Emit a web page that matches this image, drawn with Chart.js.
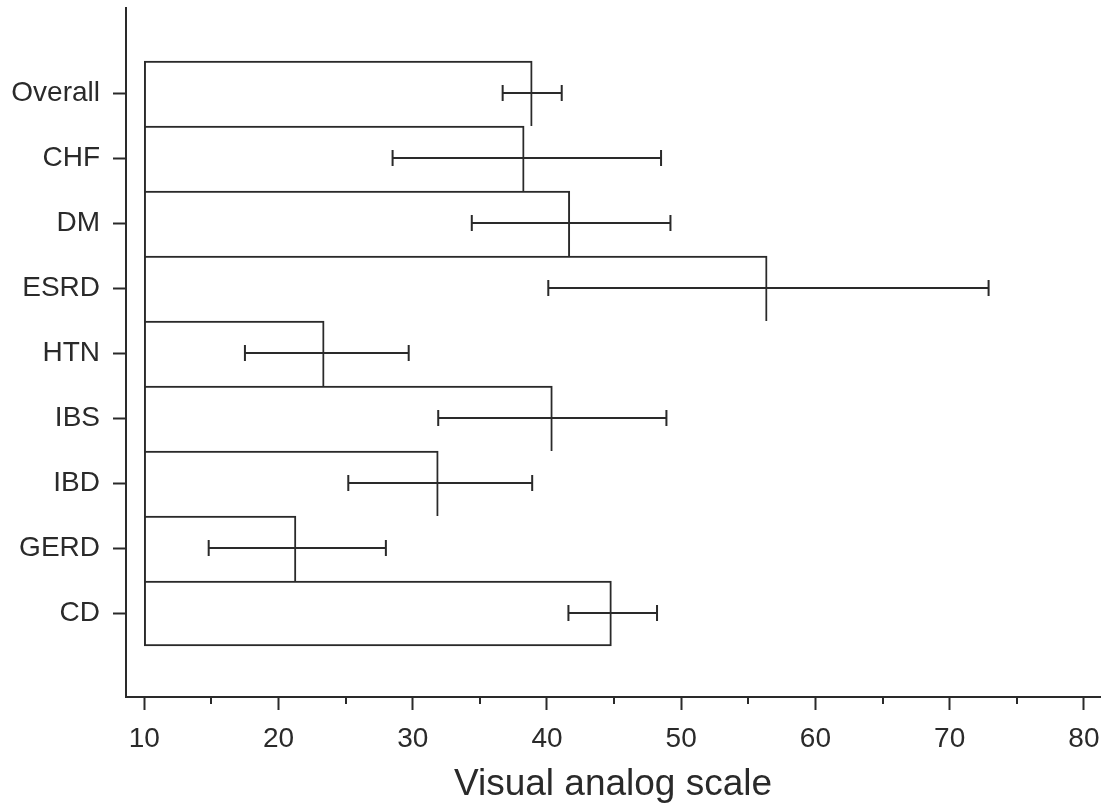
<!DOCTYPE html>
<html>
<head>
<meta charset="utf-8">
<title>Visual analog scale</title>
<script src="https://cdn.jsdelivr.net/npm/chart.js@4.4.1/dist/chart.umd.min.js"></script>
<style>
  html, body { margin: 0; padding: 0; background: #fff; }
  #wrap { width: 1104px; height: 805px; }
</style>
</head>
<body>
<div id="wrap"><canvas id="vas"></canvas></div>
<script>
// categories top to bottom
var categories = ['Overall', 'CHF', 'DM', 'ESRD', 'HTN', 'IBS', 'IBD', 'GERD', 'CD'];
// bar end (mean) and error bar ends
var means = [38.9, 38.3, 41.7, 56.4, 23.4, 40.4, 31.9, 21.3, 44.8];
var lower = [36.7, 28.5, 34.4, 40.1, 17.5, 31.9, 25.2, 14.8, 41.6];
var upper = [41.1, 48.5, 49.2, 72.9, 29.7, 48.9, 38.9, 28.0, 48.2];
var barBase = 10; // bars start at 10
var xTicks = [10, 20, 30, 40, 50, 60, 70, 80];
var xMinorTicks = [15, 25, 35, 45, 55, 65, 75];

var ink = '#2a2a2a';
var fontFam = '"Liberation Sans", Arial, Helvetica, sans-serif';

var barData = categories.map(function (c, i) {
  return { x: [barBase, means[i]], y: i };
});

// error bars + minor ticks, drawn through the scales
var errorBars = {
  id: 'errorBars',
  afterDatasetsDraw: function (chart) {
    var ctx = chart.ctx;
    var xs = chart.scales.x, ys = chart.scales.y;
    ctx.save();
    ctx.strokeStyle = ink;
    ctx.lineWidth = 2;
    for (var i = 0; i < categories.length; i++) {
      var y = Math.round(ys.getPixelForValue(i));
      var x1 = xs.getPixelForValue(lower[i]);
      var x2 = xs.getPixelForValue(upper[i]);
      ctx.beginPath();
      ctx.moveTo(x1, y); ctx.lineTo(x2, y);
      ctx.moveTo(x1, y - 8); ctx.lineTo(x1, y + 8);
      ctx.moveTo(x2, y - 8); ctx.lineTo(x2, y + 8);
      ctx.stroke();
    }
    // minor ticks on x axis
    var yb = xs.top;
    ctx.beginPath();
    xMinorTicks.forEach(function (v) {
      var x = Math.round(xs.getPixelForValue(v));
      ctx.moveTo(x, yb); ctx.lineTo(x, yb + 7);
    });
    ctx.stroke();
    ctx.restore();
  }
};

new Chart(document.getElementById('vas').getContext('2d'), {
  type: 'bar',
  data: {
    datasets: [{
      data: barData,
      backgroundColor: '#ffffff',
      borderColor: ink,
      borderSkipped: false,
      borderWidth: function (c) {
        var last = c.dataIndex === categories.length - 1;
        return { top: 2, left: 2, right: 2, bottom: last ? 2 : 0 };
      },
      barPercentage: 1,
      categoryPercentage: 1
    }]
  },
  options: {
    indexAxis: 'y',
    responsive: true,
    maintainAspectRatio: false,
    animation: false,
    layout: { padding: { top: 8, right: 4, left: 0, bottom: 0 } },
    plugins: { legend: { display: false }, tooltip: { enabled: false } },
    scales: {
      x: {
        type: 'linear',
        min: 8.64,
        max: 81.2,
        bounds: 'data',
        beginAtZero: false,
        afterBuildTicks: function (s) {
          s.ticks = xTicks.map(function (v) { return { value: v }; });
        },
        afterFit: function (s) {
          s.height = 108;
          s.paddingLeft = 0; s.paddingRight = 0;
        },
        grid: { drawOnChartArea: false, tickLength: 13, tickWidth: 2, tickColor: ink },
        border: { display: true, color: ink, width: 2 },
        ticks: {
          padding: 12,
          color: '#2a2a2a',
          font: { family: fontFam, size: 28 },
          maxRotation: 0
        },
        title: {
          display: true,
          text: 'Visual analog scale',
          color: '#2a2a2a',
          font: { family: fontFam, size: 37, lineHeight: 1.2 },
          padding: { top: 0, bottom: -2 }
        }
      },
      y: {
        type: 'linear',
        reverse: true,
        min: -1.315,
        max: 9.285,
        bounds: 'data',
        offset: false,
        afterBuildTicks: function (s) {
          s.ticks = categories.map(function (c, i) { return { value: i }; });
        },
        afterFit: function (s) {
          s.width = 126;
          s.paddingTop = 0; s.paddingBottom = 0;
        },
        grid: { offset: false, drawOnChartArea: false, tickLength: 13, tickWidth: 2, tickColor: ink },
        border: { display: true, color: ink, width: 2 },
        ticks: {
          padding: 13,
          autoSkip: false,
          color: '#2a2a2a',
          font: { family: fontFam, size: 28 },
          callback: function (v) { return categories[v]; }
        }
      }
    }
  },
  plugins: [errorBars]
});
</script>
</body>
</html>
